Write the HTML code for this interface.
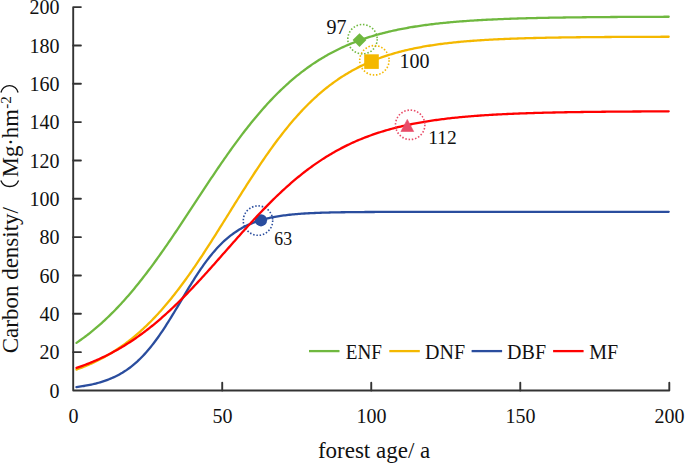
<!DOCTYPE html>
<html><head><meta charset="utf-8"><style>
html,body{margin:0;padding:0;background:#fff;}
svg{display:block;}
.t{font-family:"Liberation Serif",serif;font-size:20px;fill:#111;}
</style></head><body>
<svg width="685" height="463" viewBox="0 0 685 463">
<path d="M73.2,7.1 H80.9 M73.2,7.1 V390.5 H669.3 V382.8" fill="none" stroke="#333" stroke-width="1.9" stroke-linejoin="round" stroke-linecap="round"/>
<path d="M73.2,352.16 H80.9" stroke="#333" stroke-width="1.9" stroke-linecap="round"/>
<path d="M73.2,313.82 H80.9" stroke="#333" stroke-width="1.9" stroke-linecap="round"/>
<path d="M73.2,275.48 H80.9" stroke="#333" stroke-width="1.9" stroke-linecap="round"/>
<path d="M73.2,237.14 H80.9" stroke="#333" stroke-width="1.9" stroke-linecap="round"/>
<path d="M73.2,198.80 H80.9" stroke="#333" stroke-width="1.9" stroke-linecap="round"/>
<path d="M73.2,160.46 H80.9" stroke="#333" stroke-width="1.9" stroke-linecap="round"/>
<path d="M73.2,122.12 H80.9" stroke="#333" stroke-width="1.9" stroke-linecap="round"/>
<path d="M73.2,83.78 H80.9" stroke="#333" stroke-width="1.9" stroke-linecap="round"/>
<path d="M73.2,45.44 H80.9" stroke="#333" stroke-width="1.9" stroke-linecap="round"/>
<path d="M222.22,390.5 V382.8" stroke="#333" stroke-width="1.9" stroke-linecap="round"/>
<path d="M371.25,390.5 V382.8" stroke="#333" stroke-width="1.9" stroke-linecap="round"/>
<path d="M520.27,390.5 V382.8" stroke="#333" stroke-width="1.9" stroke-linecap="round"/>
<text x="59.5" y="397.80" text-anchor="end" class="t">0</text>
<text x="59.5" y="359.46" text-anchor="end" class="t">20</text>
<text x="59.5" y="321.12" text-anchor="end" class="t">40</text>
<text x="59.5" y="282.78" text-anchor="end" class="t">60</text>
<text x="59.5" y="244.44" text-anchor="end" class="t">80</text>
<text x="59.5" y="206.10" text-anchor="end" class="t">100</text>
<text x="59.5" y="167.76" text-anchor="end" class="t">120</text>
<text x="59.5" y="129.42" text-anchor="end" class="t">140</text>
<text x="59.5" y="91.08" text-anchor="end" class="t">160</text>
<text x="59.5" y="52.74" text-anchor="end" class="t">180</text>
<text x="59.5" y="14.40" text-anchor="end" class="t">200</text>
<text x="73.50" y="423" text-anchor="middle" class="t">0</text>
<text x="222.52" y="423" text-anchor="middle" class="t">50</text>
<text x="371.55" y="423" text-anchor="middle" class="t">100</text>
<text x="520.57" y="423" text-anchor="middle" class="t">150</text>
<text x="669.60" y="423" text-anchor="middle" class="t">200</text>
<path d="M76.48,342.84 L77.96,341.83 L79.44,340.80 L80.92,339.75 L82.40,338.68 L83.88,337.59 L85.36,336.49 L86.84,335.36 L88.32,334.22 L89.80,333.05 L91.28,331.87 L92.76,330.67 L94.25,329.45 L95.73,328.20 L97.21,326.94 L98.69,325.66 L100.17,324.35 L101.65,323.03 L103.13,321.68 L104.61,320.32 L106.09,318.93 L107.57,317.53 L109.05,316.10 L110.53,314.65 L112.01,313.18 L113.49,311.69 L114.97,310.18 L116.45,308.64 L117.93,307.09 L119.41,305.52 L120.90,303.92 L122.38,302.31 L123.86,300.67 L125.34,299.01 L126.82,297.33 L128.30,295.64 L129.78,293.92 L131.26,292.18 L132.74,290.42 L134.22,288.64 L135.70,286.84 L137.18,285.02 L138.66,283.19 L140.14,281.33 L141.62,279.46 L143.10,277.56 L144.58,275.65 L146.07,273.72 L147.55,271.78 L149.03,269.81 L150.51,267.83 L151.99,265.83 L153.47,263.82 L154.95,261.79 L156.43,259.75 L157.91,257.69 L159.39,255.61 L160.87,253.53 L162.35,251.42 L163.83,249.31 L165.31,247.18 L166.79,245.04 L168.27,242.89 L169.75,240.73 L171.23,238.56 L172.72,236.38 L174.20,234.19 L175.68,231.99 L177.16,229.78 L178.64,227.57 L180.12,225.34 L181.60,223.12 L183.08,220.88 L184.56,218.64 L186.04,216.40 L187.52,214.15 L189.00,211.90 L190.48,209.65 L191.96,207.40 L193.44,205.14 L194.92,202.89 L196.40,200.63 L197.88,198.38 L199.37,196.12 L200.85,193.87 L202.33,191.62 L203.81,189.38 L205.29,187.14 L206.77,184.90 L208.25,182.67 L209.73,180.45 L211.21,178.23 L212.69,176.02 L214.17,173.81 L215.65,171.62 L217.13,169.43 L218.61,167.26 L220.09,165.09 L221.57,162.94 L223.05,160.79 L224.53,158.66 L226.02,156.54 L227.50,154.44 L228.98,152.34 L230.46,150.26 L231.94,148.20 L233.42,146.15 L234.90,144.11 L236.38,142.09 L237.86,140.09 L239.34,138.10 L240.82,136.13 L242.30,134.17 L243.78,132.24 L245.26,130.32 L246.74,128.42 L248.22,126.54 L249.70,124.67 L251.19,122.83 L252.67,121.00 L254.15,119.20 L255.63,117.41 L257.11,115.64 L258.59,113.89 L260.07,112.17 L261.55,110.46 L263.03,108.77 L264.51,107.11 L265.99,105.46 L267.47,103.84 L268.95,102.23 L270.43,100.65 L271.91,99.09 L273.39,97.55 L274.87,96.03 L276.35,94.53 L277.84,93.05 L279.32,91.59 L280.80,90.16 L282.28,88.74 L283.76,87.35 L285.24,85.97 L286.72,84.62 L288.20,83.29 L289.68,81.97 L291.16,80.68 L292.64,79.41 L294.12,78.16 L295.60,76.93 L297.08,75.72 L298.56,74.53 L300.04,73.36 L301.52,72.20 L303.00,71.07 L304.49,69.96 L305.97,68.86 L307.45,67.79 L308.93,66.73 L310.41,65.69 L311.89,64.67 L313.37,63.67 L314.85,62.68 L316.33,61.72 L317.81,60.77 L319.29,59.84 L320.77,58.92 L322.25,58.03 L323.73,57.15 L325.21,56.28 L326.69,55.43 L328.17,54.60 L329.65,53.79 L331.14,52.98 L332.62,52.20 L334.10,51.43 L335.58,50.68 L337.06,49.93 L338.54,49.21 L340.02,48.50 L341.50,47.80 L342.98,47.12 L344.46,46.45 L345.94,45.79 L347.42,45.15 L348.90,44.52 L350.38,43.90 L351.86,43.30 L353.34,42.70 L354.82,42.12 L356.31,41.56 L357.79,41.00 L359.27,40.46 L360.75,39.92 L362.23,39.40 L363.71,38.89 L365.19,38.39 L366.67,37.90 L368.15,37.42 L369.63,36.95 L371.11,36.49 L372.59,36.04 L374.07,35.60 L375.55,35.17 L377.03,34.75 L378.51,34.33 L379.99,33.93 L381.47,33.54 L382.96,33.15 L384.44,32.77 L385.92,32.40 L387.40,32.04 L388.88,31.69 L390.36,31.34 L391.84,31.00 L393.32,30.67 L394.80,30.35 L396.28,30.03 L397.76,29.73 L399.24,29.42 L400.72,29.13 L402.20,28.84 L403.68,28.56 L405.16,28.28 L406.64,28.01 L408.12,27.75 L409.61,27.49 L411.09,27.23 L412.57,26.99 L414.05,26.75 L415.53,26.51 L417.01,26.28 L418.49,26.06 L419.97,25.84 L421.45,25.62 L422.93,25.41 L424.41,25.21 L425.89,25.00 L427.37,24.81 L428.85,24.62 L430.33,24.43 L431.81,24.25 L433.29,24.07 L434.77,23.89 L436.26,23.72 L437.74,23.56 L439.22,23.39 L440.70,23.23 L442.18,23.08 L443.66,22.93 L445.14,22.78 L446.62,22.63 L448.10,22.49 L449.58,22.35 L451.06,22.22 L452.54,22.08 L454.02,21.96 L455.50,21.83 L456.98,21.71 L458.46,21.59 L459.94,21.47 L461.43,21.35 L462.91,21.24 L464.39,21.13 L465.87,21.03 L467.35,20.92 L468.83,20.82 L470.31,20.72 L471.79,20.62 L473.27,20.53 L474.75,20.43 L476.23,20.34 L477.71,20.26 L479.19,20.17 L480.67,20.08 L482.15,20.00 L483.63,19.92 L485.11,19.84 L486.59,19.77 L488.08,19.69 L489.56,19.62 L491.04,19.55 L492.52,19.48 L494.00,19.41 L495.48,19.34 L496.96,19.28 L498.44,19.21 L499.92,19.15 L501.40,19.09 L502.88,19.03 L504.36,18.97 L505.84,18.92 L507.32,18.86 L508.80,18.81 L510.28,18.76 L511.76,18.70 L513.24,18.65 L514.73,18.61 L516.21,18.56 L517.69,18.51 L519.17,18.47 L520.65,18.42 L522.13,18.38 L523.61,18.34 L525.09,18.29 L526.57,18.25 L528.05,18.21 L529.53,18.18 L531.01,18.14 L532.49,18.10 L533.97,18.07 L535.45,18.03 L536.93,18.00 L538.41,17.96 L539.89,17.93 L541.38,17.90 L542.86,17.87 L544.34,17.84 L545.82,17.81 L547.30,17.78 L548.78,17.75 L550.26,17.72 L551.74,17.70 L553.22,17.67 L554.70,17.65 L556.18,17.62 L557.66,17.60 L559.14,17.57 L560.62,17.55 L562.10,17.53 L563.58,17.50 L565.06,17.48 L566.55,17.46 L568.03,17.44 L569.51,17.42 L570.99,17.40 L572.47,17.38 L573.95,17.36 L575.43,17.34 L576.91,17.33 L578.39,17.31 L579.87,17.29 L581.35,17.28 L582.83,17.26 L584.31,17.24 L585.79,17.23 L587.27,17.21 L588.75,17.20 L590.23,17.18 L591.71,17.17 L593.20,17.16 L594.68,17.14 L596.16,17.13 L597.64,17.12 L599.12,17.10 L600.60,17.09 L602.08,17.08 L603.56,17.07 L605.04,17.06 L606.52,17.05 L608.00,17.04 L609.48,17.03 L610.96,17.02 L612.44,17.01 L613.92,17.00 L615.40,16.99 L616.88,16.98 L618.36,16.97 L619.85,16.96 L621.33,16.95 L622.81,16.94 L624.29,16.93 L625.77,16.93 L627.25,16.92 L628.73,16.91 L630.21,16.90 L631.69,16.89 L633.17,16.89 L634.65,16.88 L636.13,16.87 L637.61,16.87 L639.09,16.86 L640.57,16.85 L642.05,16.85 L643.53,16.84 L645.01,16.84 L646.50,16.83 L647.98,16.82 L649.46,16.82 L650.94,16.81 L652.42,16.81 L653.90,16.80 L655.38,16.80 L656.86,16.79 L658.34,16.79 L659.82,16.78 L661.30,16.78 L662.78,16.78 L664.26,16.77 L665.74,16.77 L667.22,16.76 L668.70,16.76" fill="none" stroke="#6FB83F" stroke-width="2.3" stroke-linejoin="round" stroke-linecap="round"/>
<path d="M352.6,40.1 L359.5,33.2 L366.4,40.1 L359.5,47.0 Z" fill="#6FB83F"/>
<circle cx="362.5" cy="39.2" r="14.7" fill="none" stroke="#6FB83F" stroke-width="1.6" stroke-dasharray="1.5 1.8"/>
<path d="M76.48,369.56 L77.96,369.02 L79.44,368.47 L80.92,367.91 L82.40,367.33 L83.88,366.74 L85.36,366.14 L86.84,365.52 L88.32,364.89 L89.80,364.25 L91.28,363.59 L92.76,362.91 L94.25,362.22 L95.73,361.51 L97.21,360.79 L98.69,360.04 L100.17,359.29 L101.65,358.51 L103.13,357.72 L104.61,356.91 L106.09,356.09 L107.57,355.24 L109.05,354.38 L110.53,353.50 L112.01,352.60 L113.49,351.68 L114.97,350.74 L116.45,349.78 L117.93,348.80 L119.41,347.80 L120.90,346.78 L122.38,345.74 L123.86,344.68 L125.34,343.60 L126.82,342.49 L128.30,341.36 L129.78,340.22 L131.26,339.04 L132.74,337.85 L134.22,336.63 L135.70,335.39 L137.18,334.13 L138.66,332.85 L140.14,331.54 L141.62,330.20 L143.10,328.85 L144.58,327.46 L146.07,326.06 L147.55,324.63 L149.03,323.18 L150.51,321.70 L151.99,320.20 L153.47,318.67 L154.95,317.12 L156.43,315.54 L157.91,313.94 L159.39,312.31 L160.87,310.66 L162.35,308.99 L163.83,307.29 L165.31,305.57 L166.79,303.82 L168.27,302.05 L169.75,300.25 L171.23,298.43 L172.72,296.59 L174.20,294.72 L175.68,292.83 L177.16,290.92 L178.64,288.98 L180.12,287.02 L181.60,285.04 L183.08,283.04 L184.56,281.02 L186.04,278.97 L187.52,276.91 L189.00,274.83 L190.48,272.72 L191.96,270.60 L193.44,268.46 L194.92,266.30 L196.40,264.13 L197.88,261.93 L199.37,259.72 L200.85,257.50 L202.33,255.26 L203.81,253.00 L205.29,250.74 L206.77,248.46 L208.25,246.16 L209.73,243.86 L211.21,241.55 L212.69,239.22 L214.17,236.89 L215.65,234.55 L217.13,232.20 L218.61,229.84 L220.09,227.48 L221.57,225.11 L223.05,222.74 L224.53,220.37 L226.02,217.99 L227.50,215.61 L228.98,213.24 L230.46,210.86 L231.94,208.48 L233.42,206.10 L234.90,203.73 L236.38,201.36 L237.86,199.00 L239.34,196.63 L240.82,194.28 L242.30,191.93 L243.78,189.59 L245.26,187.26 L246.74,184.94 L248.22,182.63 L249.70,180.33 L251.19,178.04 L252.67,175.76 L254.15,173.50 L255.63,171.25 L257.11,169.01 L258.59,166.79 L260.07,164.59 L261.55,162.40 L263.03,160.23 L264.51,158.08 L265.99,155.94 L267.47,153.82 L268.95,151.72 L270.43,149.65 L271.91,147.59 L273.39,145.55 L274.87,143.53 L276.35,141.54 L277.84,139.56 L279.32,137.61 L280.80,135.68 L282.28,133.78 L283.76,131.89 L285.24,130.03 L286.72,128.20 L288.20,126.38 L289.68,124.59 L291.16,122.83 L292.64,121.09 L294.12,119.37 L295.60,117.68 L297.08,116.01 L298.56,114.37 L300.04,112.75 L301.52,111.15 L303.00,109.58 L304.49,108.04 L305.97,106.52 L307.45,105.02 L308.93,103.55 L310.41,102.10 L311.89,100.68 L313.37,99.28 L314.85,97.91 L316.33,96.56 L317.81,95.23 L319.29,93.93 L320.77,92.65 L322.25,91.39 L323.73,90.16 L325.21,88.95 L326.69,87.76 L328.17,86.60 L329.65,85.45 L331.14,84.33 L332.62,83.23 L334.10,82.16 L335.58,81.10 L337.06,80.07 L338.54,79.05 L340.02,78.06 L341.50,77.08 L342.98,76.13 L344.46,75.20 L345.94,74.28 L347.42,73.39 L348.90,72.51 L350.38,71.65 L351.86,70.81 L353.34,69.99 L354.82,69.19 L356.31,68.40 L357.79,67.63 L359.27,66.88 L360.75,66.15 L362.23,65.43 L363.71,64.72 L365.19,64.04 L366.67,63.36 L368.15,62.71 L369.63,62.06 L371.11,61.44 L372.59,60.82 L374.07,60.22 L375.55,59.64 L377.03,59.07 L378.51,58.51 L379.99,57.96 L381.47,57.43 L382.96,56.91 L384.44,56.40 L385.92,55.91 L387.40,55.42 L388.88,54.95 L390.36,54.49 L391.84,54.04 L393.32,53.60 L394.80,53.17 L396.28,52.75 L397.76,52.34 L399.24,51.94 L400.72,51.55 L402.20,51.18 L403.68,50.80 L405.16,50.44 L406.64,50.09 L408.12,49.75 L409.61,49.41 L411.09,49.08 L412.57,48.77 L414.05,48.45 L415.53,48.15 L417.01,47.86 L418.49,47.57 L419.97,47.29 L421.45,47.01 L422.93,46.74 L424.41,46.48 L425.89,46.23 L427.37,45.98 L428.85,45.74 L430.33,45.50 L431.81,45.27 L433.29,45.05 L434.77,44.83 L436.26,44.62 L437.74,44.41 L439.22,44.21 L440.70,44.01 L442.18,43.82 L443.66,43.63 L445.14,43.45 L446.62,43.28 L448.10,43.10 L449.58,42.93 L451.06,42.77 L452.54,42.61 L454.02,42.45 L455.50,42.30 L456.98,42.15 L458.46,42.01 L459.94,41.87 L461.43,41.73 L462.91,41.60 L464.39,41.47 L465.87,41.34 L467.35,41.22 L468.83,41.10 L470.31,40.98 L471.79,40.87 L473.27,40.76 L474.75,40.65 L476.23,40.54 L477.71,40.44 L479.19,40.34 L480.67,40.24 L482.15,40.15 L483.63,40.06 L485.11,39.97 L486.59,39.88 L488.08,39.79 L489.56,39.71 L491.04,39.63 L492.52,39.55 L494.00,39.47 L495.48,39.40 L496.96,39.33 L498.44,39.26 L499.92,39.19 L501.40,39.12 L502.88,39.05 L504.36,38.99 L505.84,38.93 L507.32,38.87 L508.80,38.81 L510.28,38.75 L511.76,38.70 L513.24,38.64 L514.73,38.59 L516.21,38.54 L517.69,38.49 L519.17,38.44 L520.65,38.39 L522.13,38.34 L523.61,38.30 L525.09,38.25 L526.57,38.21 L528.05,38.17 L529.53,38.13 L531.01,38.09 L532.49,38.05 L533.97,38.01 L535.45,37.98 L536.93,37.94 L538.41,37.91 L539.89,37.87 L541.38,37.84 L542.86,37.81 L544.34,37.78 L545.82,37.75 L547.30,37.72 L548.78,37.69 L550.26,37.66 L551.74,37.63 L553.22,37.61 L554.70,37.58 L556.18,37.56 L557.66,37.53 L559.14,37.51 L560.62,37.49 L562.10,37.46 L563.58,37.44 L565.06,37.42 L566.55,37.40 L568.03,37.38 L569.51,37.36 L570.99,37.34 L572.47,37.32 L573.95,37.30 L575.43,37.29 L576.91,37.27 L578.39,37.25 L579.87,37.24 L581.35,37.22 L582.83,37.20 L584.31,37.19 L585.79,37.17 L587.27,37.16 L588.75,37.15 L590.23,37.13 L591.71,37.12 L593.20,37.11 L594.68,37.09 L596.16,37.08 L597.64,37.07 L599.12,37.06 L600.60,37.05 L602.08,37.04 L603.56,37.03 L605.04,37.01 L606.52,37.00 L608.00,36.99 L609.48,36.99 L610.96,36.98 L612.44,36.97 L613.92,36.96 L615.40,36.95 L616.88,36.94 L618.36,36.93 L619.85,36.93 L621.33,36.92 L622.81,36.91 L624.29,36.90 L625.77,36.90 L627.25,36.89 L628.73,36.88 L630.21,36.88 L631.69,36.87 L633.17,36.86 L634.65,36.86 L636.13,36.85 L637.61,36.85 L639.09,36.84 L640.57,36.83 L642.05,36.83 L643.53,36.82 L645.01,36.82 L646.50,36.81 L647.98,36.81 L649.46,36.80 L650.94,36.80 L652.42,36.80 L653.90,36.79 L655.38,36.79 L656.86,36.78 L658.34,36.78 L659.82,36.78 L661.30,36.77 L662.78,36.77 L664.26,36.76 L665.74,36.76 L667.22,36.76 L668.70,36.75" fill="none" stroke="#F4B800" stroke-width="2.3" stroke-linejoin="round" stroke-linecap="round"/>
<rect x="364.2" y="54.300000000000004" width="14.6" height="14.6" fill="#F4B800"/>
<circle cx="374.4" cy="60.3" r="14.7" fill="none" stroke="#F4B800" stroke-width="1.6" stroke-dasharray="1.5 1.8"/>
<path d="M76.48,387.06 L77.96,386.87 L79.44,386.67 L80.92,386.45 L82.40,386.23 L83.88,385.99 L85.36,385.73 L86.84,385.47 L88.32,385.19 L89.80,384.89 L91.28,384.58 L92.76,384.25 L94.25,383.91 L95.73,383.54 L97.21,383.16 L98.69,382.76 L100.17,382.34 L101.65,381.89 L103.13,381.42 L104.61,380.93 L106.09,380.41 L107.57,379.86 L109.05,379.29 L110.53,378.69 L112.01,378.06 L113.49,377.40 L114.97,376.71 L116.45,375.98 L117.93,375.22 L119.41,374.42 L120.90,373.58 L122.38,372.71 L123.86,371.79 L125.34,370.84 L126.82,369.84 L128.30,368.80 L129.78,367.71 L131.26,366.58 L132.74,365.40 L134.22,364.17 L135.70,362.89 L137.18,361.57 L138.66,360.19 L140.14,358.76 L141.62,357.27 L143.10,355.74 L144.58,354.15 L146.07,352.51 L147.55,350.81 L149.03,349.06 L150.51,347.26 L151.99,345.40 L153.47,343.50 L154.95,341.54 L156.43,339.53 L157.91,337.47 L159.39,335.37 L160.87,333.22 L162.35,331.03 L163.83,328.79 L165.31,326.52 L166.79,324.21 L168.27,321.87 L169.75,319.49 L171.23,317.09 L172.72,314.67 L174.20,312.22 L175.68,309.76 L177.16,307.29 L178.64,304.80 L180.12,302.31 L181.60,299.82 L183.08,297.33 L184.56,294.85 L186.04,292.37 L187.52,289.91 L189.00,287.47 L190.48,285.05 L191.96,282.65 L193.44,280.28 L194.92,277.94 L196.40,275.63 L197.88,273.36 L199.37,271.13 L200.85,268.94 L202.33,266.80 L203.81,264.70 L205.29,262.64 L206.77,260.64 L208.25,258.69 L209.73,256.78 L211.21,254.93 L212.69,253.13 L214.17,251.39 L215.65,249.70 L217.13,248.06 L218.61,246.48 L220.09,244.95 L221.57,243.47 L223.05,242.04 L224.53,240.67 L226.02,239.34 L227.50,238.07 L228.98,236.85 L230.46,235.67 L231.94,234.54 L233.42,233.46 L234.90,232.42 L236.38,231.43 L237.86,230.48 L239.34,229.57 L240.82,228.70 L242.30,227.86 L243.78,227.07 L245.26,226.31 L246.74,225.58 L248.22,224.89 L249.70,224.24 L251.19,223.61 L252.67,223.01 L254.15,222.44 L255.63,221.90 L257.11,221.38 L258.59,220.89 L260.07,220.42 L261.55,219.98 L263.03,219.56 L264.51,219.16 L265.99,218.77 L267.47,218.41 L268.95,218.07 L270.43,217.74 L271.91,217.43 L273.39,217.14 L274.87,216.86 L276.35,216.60 L277.84,216.35 L279.32,216.11 L280.80,215.88 L282.28,215.67 L283.76,215.46 L285.24,215.27 L286.72,215.09 L288.20,214.92 L289.68,214.75 L291.16,214.60 L292.64,214.45 L294.12,214.31 L295.60,214.18 L297.08,214.06 L298.56,213.94 L300.04,213.83 L301.52,213.72 L303.00,213.62 L304.49,213.52 L305.97,213.43 L307.45,213.35 L308.93,213.27 L310.41,213.19 L311.89,213.12 L313.37,213.05 L314.85,212.99 L316.33,212.93 L317.81,212.87 L319.29,212.81 L320.77,212.76 L322.25,212.71 L323.73,212.67 L325.21,212.62 L326.69,212.58 L328.17,212.54 L329.65,212.50 L331.14,212.47 L332.62,212.44 L334.10,212.40 L335.58,212.37 L337.06,212.35 L338.54,212.32 L340.02,212.29 L341.50,212.27 L342.98,212.25 L344.46,212.23 L345.94,212.21 L347.42,212.19 L348.90,212.17 L350.38,212.15 L351.86,212.14 L353.34,212.12 L354.82,212.11 L356.31,212.09 L357.79,212.08 L359.27,212.07 L360.75,212.05 L362.23,212.04 L363.71,212.03 L365.19,212.02 L366.67,212.01 L368.15,212.01 L369.63,212.00 L371.11,211.99 L372.59,211.98 L374.07,211.98 L375.55,211.97 L377.03,211.96 L378.51,211.96 L379.99,211.95 L381.47,211.95 L382.96,211.94 L384.44,211.94 L385.92,211.93 L387.40,211.93 L388.88,211.92 L390.36,211.92 L391.84,211.92 L393.32,211.91 L394.80,211.91 L396.28,211.91 L397.76,211.90 L399.24,211.90 L400.72,211.90 L402.20,211.90 L403.68,211.89 L405.16,211.89 L406.64,211.89 L408.12,211.89 L409.61,211.88 L411.09,211.88 L412.57,211.88 L414.05,211.88 L415.53,211.88 L417.01,211.88 L418.49,211.88 L419.97,211.87 L421.45,211.87 L422.93,211.87 L424.41,211.87 L425.89,211.87 L427.37,211.87 L428.85,211.87 L430.33,211.87 L431.81,211.87 L433.29,211.87 L434.77,211.87 L436.26,211.86 L437.74,211.86 L439.22,211.86 L440.70,211.86 L442.18,211.86 L443.66,211.86 L445.14,211.86 L446.62,211.86 L448.10,211.86 L449.58,211.86 L451.06,211.86 L452.54,211.86 L454.02,211.86 L455.50,211.86 L456.98,211.86 L458.46,211.86 L459.94,211.86 L461.43,211.86 L462.91,211.86 L464.39,211.86 L465.87,211.86 L467.35,211.86 L468.83,211.86 L470.31,211.86 L471.79,211.86 L473.27,211.86 L474.75,211.86 L476.23,211.86 L477.71,211.86 L479.19,211.85 L480.67,211.85 L482.15,211.85 L483.63,211.85 L485.11,211.85 L486.59,211.85 L488.08,211.85 L489.56,211.85 L491.04,211.85 L492.52,211.85 L494.00,211.85 L495.48,211.85 L496.96,211.85 L498.44,211.85 L499.92,211.85 L501.40,211.85 L502.88,211.85 L504.36,211.85 L505.84,211.85 L507.32,211.85 L508.80,211.85 L510.28,211.85 L511.76,211.85 L513.24,211.85 L514.73,211.85 L516.21,211.85 L517.69,211.85 L519.17,211.85 L520.65,211.85 L522.13,211.85 L523.61,211.85 L525.09,211.85 L526.57,211.85 L528.05,211.85 L529.53,211.85 L531.01,211.85 L532.49,211.85 L533.97,211.85 L535.45,211.85 L536.93,211.85 L538.41,211.85 L539.89,211.85 L541.38,211.85 L542.86,211.85 L544.34,211.85 L545.82,211.85 L547.30,211.85 L548.78,211.85 L550.26,211.85 L551.74,211.85 L553.22,211.85 L554.70,211.85 L556.18,211.85 L557.66,211.85 L559.14,211.85 L560.62,211.85 L562.10,211.85 L563.58,211.85 L565.06,211.85 L566.55,211.85 L568.03,211.85 L569.51,211.85 L570.99,211.85 L572.47,211.85 L573.95,211.85 L575.43,211.85 L576.91,211.85 L578.39,211.85 L579.87,211.85 L581.35,211.85 L582.83,211.85 L584.31,211.85 L585.79,211.85 L587.27,211.85 L588.75,211.85 L590.23,211.85 L591.71,211.85 L593.20,211.85 L594.68,211.85 L596.16,211.85 L597.64,211.85 L599.12,211.85 L600.60,211.85 L602.08,211.85 L603.56,211.85 L605.04,211.85 L606.52,211.85 L608.00,211.85 L609.48,211.85 L610.96,211.85 L612.44,211.85 L613.92,211.85 L615.40,211.85 L616.88,211.85 L618.36,211.85 L619.85,211.85 L621.33,211.85 L622.81,211.85 L624.29,211.85 L625.77,211.85 L627.25,211.85 L628.73,211.85 L630.21,211.85 L631.69,211.85 L633.17,211.85 L634.65,211.85 L636.13,211.85 L637.61,211.85 L639.09,211.85 L640.57,211.85 L642.05,211.85 L643.53,211.85 L645.01,211.85 L646.50,211.85 L647.98,211.85 L649.46,211.85 L650.94,211.85 L652.42,211.85 L653.90,211.85 L655.38,211.85 L656.86,211.85 L658.34,211.85 L659.82,211.85 L661.30,211.85 L662.78,211.85 L664.26,211.85 L665.74,211.85 L667.22,211.85 L668.70,211.85" fill="none" stroke="#2A4D9E" stroke-width="2.3" stroke-linejoin="round" stroke-linecap="round"/>
<circle cx="261" cy="220.3" r="6.1" fill="#2A4D9E"/>
<circle cx="258" cy="220.6" r="14.7" fill="none" stroke="#2A4D9E" stroke-width="1.6" stroke-dasharray="1.5 1.8"/>
<path d="M76.48,367.92 L77.96,367.42 L79.44,366.90 L80.92,366.38 L82.40,365.84 L83.88,365.29 L85.36,364.73 L86.84,364.17 L88.32,363.59 L89.80,362.99 L91.28,362.39 L92.76,361.78 L94.25,361.15 L95.73,360.51 L97.21,359.86 L98.69,359.20 L100.17,358.52 L101.65,357.83 L103.13,357.13 L104.61,356.42 L106.09,355.69 L107.57,354.95 L109.05,354.20 L110.53,353.43 L112.01,352.65 L113.49,351.85 L114.97,351.04 L116.45,350.22 L117.93,349.38 L119.41,348.53 L120.90,347.66 L122.38,346.78 L123.86,345.89 L125.34,344.98 L126.82,344.05 L128.30,343.11 L129.78,342.16 L131.26,341.19 L132.74,340.20 L134.22,339.20 L135.70,338.18 L137.18,337.15 L138.66,336.11 L140.14,335.04 L141.62,333.96 L143.10,332.87 L144.58,331.76 L146.07,330.64 L147.55,329.50 L149.03,328.34 L150.51,327.17 L151.99,325.98 L153.47,324.78 L154.95,323.56 L156.43,322.33 L157.91,321.08 L159.39,319.81 L160.87,318.53 L162.35,317.24 L163.83,315.93 L165.31,314.61 L166.79,313.27 L168.27,311.91 L169.75,310.55 L171.23,309.17 L172.72,307.77 L174.20,306.36 L175.68,304.94 L177.16,303.50 L178.64,302.05 L180.12,300.59 L181.60,299.12 L183.08,297.63 L184.56,296.13 L186.04,294.62 L187.52,293.10 L189.00,291.56 L190.48,290.02 L191.96,288.46 L193.44,286.90 L194.92,285.33 L196.40,283.74 L197.88,282.15 L199.37,280.55 L200.85,278.94 L202.33,277.32 L203.81,275.69 L205.29,274.06 L206.77,272.42 L208.25,270.78 L209.73,269.13 L211.21,267.47 L212.69,265.81 L214.17,264.15 L215.65,262.48 L217.13,260.81 L218.61,259.13 L220.09,257.46 L221.57,255.78 L223.05,254.10 L224.53,252.41 L226.02,250.73 L227.50,249.05 L228.98,247.37 L230.46,245.69 L231.94,244.01 L233.42,242.33 L234.90,240.66 L236.38,238.99 L237.86,237.32 L239.34,235.65 L240.82,233.99 L242.30,232.34 L243.78,230.69 L245.26,229.05 L246.74,227.41 L248.22,225.78 L249.70,224.15 L251.19,222.54 L252.67,220.93 L254.15,219.33 L255.63,217.73 L257.11,216.15 L258.59,214.58 L260.07,213.01 L261.55,211.46 L263.03,209.92 L264.51,208.38 L265.99,206.86 L267.47,205.35 L268.95,203.86 L270.43,202.37 L271.91,200.90 L273.39,199.44 L274.87,197.99 L276.35,196.55 L277.84,195.13 L279.32,193.73 L280.80,192.33 L282.28,190.95 L283.76,189.59 L285.24,188.23 L286.72,186.90 L288.20,185.58 L289.68,184.27 L291.16,182.98 L292.64,181.70 L294.12,180.44 L295.60,179.19 L297.08,177.96 L298.56,176.74 L300.04,175.54 L301.52,174.35 L303.00,173.18 L304.49,172.03 L305.97,170.89 L307.45,169.77 L308.93,168.66 L310.41,167.57 L311.89,166.49 L313.37,165.43 L314.85,164.38 L316.33,163.35 L317.81,162.34 L319.29,161.34 L320.77,160.36 L322.25,159.39 L323.73,158.43 L325.21,157.50 L326.69,156.57 L328.17,155.66 L329.65,154.77 L331.14,153.89 L332.62,153.03 L334.10,152.18 L335.58,151.34 L337.06,150.52 L338.54,149.71 L340.02,148.92 L341.50,148.14 L342.98,147.37 L344.46,146.62 L345.94,145.88 L347.42,145.15 L348.90,144.44 L350.38,143.74 L351.86,143.06 L353.34,142.38 L354.82,141.72 L356.31,141.07 L357.79,140.43 L359.27,139.81 L360.75,139.19 L362.23,138.59 L363.71,138.00 L365.19,137.42 L366.67,136.86 L368.15,136.30 L369.63,135.75 L371.11,135.22 L372.59,134.69 L374.07,134.18 L375.55,133.68 L377.03,133.18 L378.51,132.70 L379.99,132.22 L381.47,131.76 L382.96,131.30 L384.44,130.86 L385.92,130.42 L387.40,129.99 L388.88,129.58 L390.36,129.17 L391.84,128.76 L393.32,128.37 L394.80,127.99 L396.28,127.61 L397.76,127.24 L399.24,126.88 L400.72,126.53 L402.20,126.18 L403.68,125.84 L405.16,125.51 L406.64,125.18 L408.12,124.87 L409.61,124.56 L411.09,124.25 L412.57,123.95 L414.05,123.66 L415.53,123.38 L417.01,123.10 L418.49,122.83 L419.97,122.56 L421.45,122.30 L422.93,122.05 L424.41,121.80 L425.89,121.55 L427.37,121.31 L428.85,121.08 L430.33,120.85 L431.81,120.63 L433.29,120.41 L434.77,120.20 L436.26,119.99 L437.74,119.79 L439.22,119.59 L440.70,119.39 L442.18,119.20 L443.66,119.02 L445.14,118.83 L446.62,118.66 L448.10,118.48 L449.58,118.31 L451.06,118.15 L452.54,117.98 L454.02,117.83 L455.50,117.67 L456.98,117.52 L458.46,117.37 L459.94,117.23 L461.43,117.08 L462.91,116.95 L464.39,116.81 L465.87,116.68 L467.35,116.55 L468.83,116.42 L470.31,116.30 L471.79,116.18 L473.27,116.06 L474.75,115.95 L476.23,115.84 L477.71,115.73 L479.19,115.62 L480.67,115.51 L482.15,115.41 L483.63,115.31 L485.11,115.22 L486.59,115.12 L488.08,115.03 L489.56,114.94 L491.04,114.85 L492.52,114.76 L494.00,114.68 L495.48,114.59 L496.96,114.51 L498.44,114.43 L499.92,114.36 L501.40,114.28 L502.88,114.21 L504.36,114.13 L505.84,114.06 L507.32,114.00 L508.80,113.93 L510.28,113.86 L511.76,113.80 L513.24,113.74 L514.73,113.68 L516.21,113.62 L517.69,113.56 L519.17,113.50 L520.65,113.45 L522.13,113.39 L523.61,113.34 L525.09,113.29 L526.57,113.24 L528.05,113.19 L529.53,113.14 L531.01,113.09 L532.49,113.05 L533.97,113.00 L535.45,112.96 L536.93,112.92 L538.41,112.87 L539.89,112.83 L541.38,112.79 L542.86,112.76 L544.34,112.72 L545.82,112.68 L547.30,112.64 L548.78,112.61 L550.26,112.57 L551.74,112.54 L553.22,112.51 L554.70,112.48 L556.18,112.44 L557.66,112.41 L559.14,112.38 L560.62,112.35 L562.10,112.33 L563.58,112.30 L565.06,112.27 L566.55,112.24 L568.03,112.22 L569.51,112.19 L570.99,112.17 L572.47,112.14 L573.95,112.12 L575.43,112.10 L576.91,112.08 L578.39,112.05 L579.87,112.03 L581.35,112.01 L582.83,111.99 L584.31,111.97 L585.79,111.95 L587.27,111.93 L588.75,111.91 L590.23,111.90 L591.71,111.88 L593.20,111.86 L594.68,111.85 L596.16,111.83 L597.64,111.81 L599.12,111.80 L600.60,111.78 L602.08,111.77 L603.56,111.75 L605.04,111.74 L606.52,111.72 L608.00,111.71 L609.48,111.70 L610.96,111.68 L612.44,111.67 L613.92,111.66 L615.40,111.65 L616.88,111.64 L618.36,111.62 L619.85,111.61 L621.33,111.60 L622.81,111.59 L624.29,111.58 L625.77,111.57 L627.25,111.56 L628.73,111.55 L630.21,111.54 L631.69,111.53 L633.17,111.52 L634.65,111.51 L636.13,111.51 L637.61,111.50 L639.09,111.49 L640.57,111.48 L642.05,111.47 L643.53,111.47 L645.01,111.46 L646.50,111.45 L647.98,111.44 L649.46,111.44 L650.94,111.43 L652.42,111.42 L653.90,111.42 L655.38,111.41 L656.86,111.41 L658.34,111.40 L659.82,111.39 L661.30,111.39 L662.78,111.38 L664.26,111.38 L665.74,111.37 L667.22,111.37 L668.70,111.36" fill="none" stroke="#FF0000" stroke-width="2.3" stroke-linejoin="round" stroke-linecap="round"/>
<path d="M407.3,119.4 L413.7,131.5 L400.90000000000003,131.5 Z" fill="#E84C68" stroke="#E84C68" stroke-width="0.6" stroke-linejoin="round"/>
<circle cx="410.2" cy="124.8" r="14.7" fill="none" stroke="#E84C68" stroke-width="1.6" stroke-dasharray="1.5 1.8"/>
<text x="326.5" y="34" class="t">97</text>
<text x="399.5" y="68" class="t">100</text>
<text x="428.2" y="144.1" class="t" style="font-size:19.5px">112</text>
<text x="274.3" y="245.0" class="t" style="font-size:17.8px">63</text>
<path d="M309,351.1 h30.5" stroke="#6FB83F" stroke-width="2.3"/>
<text x="345.8" y="358.5" class="t" textLength="36.2" lengthAdjust="spacingAndGlyphs">ENF</text>
<path d="M389.3,351.1 h30.5" stroke="#F4B800" stroke-width="2.3"/>
<text x="425.1" y="358.5" class="t">DNF</text>
<path d="M471.6,351.1 h30.5" stroke="#2A4D9E" stroke-width="2.3"/>
<text x="507.1" y="358.5" class="t">DBF</text>
<path d="M553.1,351.1 h30.5" stroke="#FF0000" stroke-width="2.3"/>
<text x="589.3" y="358.5" class="t">MF</text>
<text x="317.9" y="457.5" class="t" style="font-size:23px">forest age/ a</text>
<text transform="translate(18.3,353.3) rotate(-90)" class="t" style="font-size:23px">Carbon density/</text>
<text transform="translate(18.3,177.2) rotate(-90)" class="t" style="font-size:23px" textLength="68" lengthAdjust="spacingAndGlyphs">Mg·hm</text>
<text transform="translate(10.9,108.8) rotate(-90)" class="t" style="font-size:15px">-2</text>
<path d="M0.8,180.5 A9.6,9.6 0 0 0 18.6,180.5" fill="none" stroke="#111" stroke-width="1.3"/>
<path d="M0.9,92.5 A8.8,8.8 0 0 1 18.1,92.5" fill="none" stroke="#111" stroke-width="1.3"/>
</svg>
</body></html>
